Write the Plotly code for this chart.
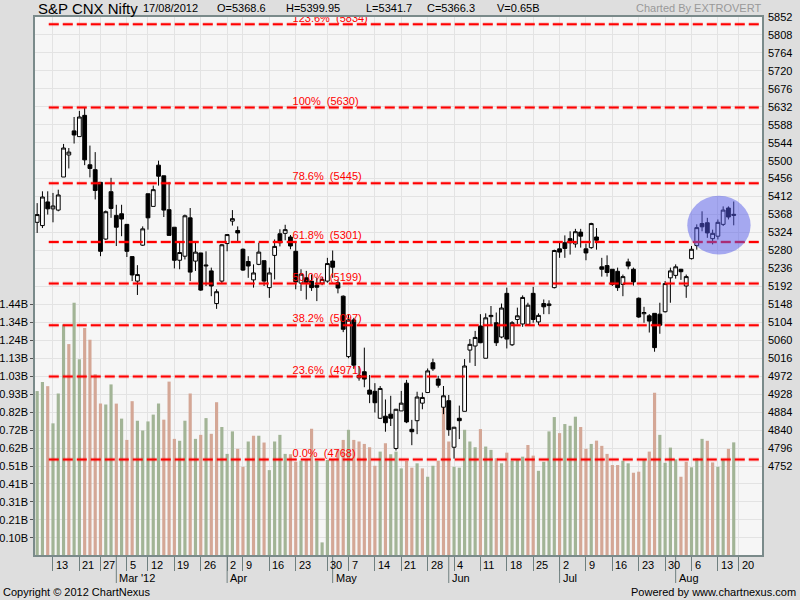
import plotly.graph_objects as go
import pandas as pd

# ---------------- data ----------------
HOLIDAYS = ["2012-02-20", "2012-03-08", "2012-04-05", "2012-04-06", "2012-05-01", "2012-08-15"]
EXTRA_SESSIONS = ["2012-04-28"]
_days = pd.bdate_range("2012-02-08", "2012-08-17").drop(pd.to_datetime(HOLIDAYS))
_days = _days.union(pd.to_datetime(EXTRA_SESSIONS))
DATES = [d.strftime("%Y-%m-%d") for d in _days]

OPEN = [5349, 5341, 5399, 5382, 5379, 5460, 5514, 5573, 5559, 5611, 5490, 5478, 5447, 5308, 5424,
        5366, 5370, 5344, 5265, 5205, 5293, 5419, 5388, 5489, 5463, 5380, 5337, 5256, 5266, 5360,
        5254, 5274, 5242, 5230, 5150, 5205, 5297, 5352, 5329, 5283, 5253, 5208, 5246, 5255, 5189,
        5268, 5321, 5322, 5313, 5278, 5200, 5213, 5205, 5195, 5200, 5205, 5254, 5201, 5168, 5020,
        5110, 4968, 4983, 4938, 4935, 4869, 4874, 4879, 4795, 4887, 4955, 4842, 4863, 4906, 4932,
        5005, 4965, 4896, 4912, 4798, 4869, 4886, 5036, 5046, 5095, 5016, 5118, 5103, 5068, 5175,
        5049, 5111, 5100, 5099, 5175, 5105, 5150, 5145, 5189, 5284, 5299, 5309, 5296, 5325, 5284,
        5287, 5313, 5240, 5243, 5234, 5229, 5197, 5252, 5234, 5163, 5125, 5120, 5126, 5124, 5130,
        5213, 5219, 5234, 5193, 5260, 5292, 5346, 5348, 5309, 5315, 5344, 5384, 5368.6]
HIGH = [5396, 5425, 5425, 5421, 5429, 5541, 5531, 5607, 5622, 5630, 5537, 5521, 5447, 5378, 5458,
        5392, 5392, 5344, 5265, 5244, 5339, 5419, 5439, 5500, 5463, 5447, 5337, 5299, 5368, 5384,
        5299, 5274, 5278, 5238, 5185, 5296, 5319, 5379, 5339, 5285, 5266, 5246, 5299, 5255, 5238,
        5307, 5332, 5343, 5318, 5299, 5234, 5230, 5221, 5213, 5215, 5262, 5280, 5209, 5170, 5124,
        5115, 4997, 5042, 4975, 4955, 4948, 4915, 4924, 4892, 4936, 4963, 4865, 4934, 4932, 4991,
        5015, 4973, 4948, 4926, 4848, 4900, 5014, 5063, 5083, 5124, 5126, 5144, 5128, 5150, 5189,
        5107, 5140, 5170, 5152, 5191, 5126, 5160, 5158, 5282, 5300, 5317, 5327, 5333, 5333, 5297,
        5348, 5335, 5262, 5268, 5234, 5238, 5221, 5260, 5238, 5165, 5142, 5124, 5126, 5152, 5205,
        5238, 5246, 5235, 5221, 5291, 5344, 5376, 5360, 5331, 5356, 5388, 5388, 5399.95]
LOW = [5323, 5335, 5368, 5349, 5376, 5460, 5481, 5542, 5559, 5489, 5459, 5405, 5266, 5306, 5360,
       5291, 5315, 5264, 5205, 5171, 5291, 5331, 5388, 5439, 5362, 5317, 5236, 5234, 5258, 5205,
       5230, 5181, 5193, 5168, 5137, 5200, 5278, 5341, 5303, 5230, 5213, 5189, 5244, 5193, 5164,
       5209, 5290, 5305, 5283, 5185, 5181, 5160, 5181, 5156, 5195, 5201, 5213, 5175, 5080, 5016,
       4990, 4961, 4945, 4906, 4883, 4867, 4836, 4850, 4790, 4887, 4857, 4803, 4830, 4891, 4932,
       4985, 4944, 4879, 4826, 4770, 4818, 4886, 5005, 4997, 5053, 5016, 5095, 5046, 5065, 5040,
       5046, 5099, 5093, 5095, 5103, 5097, 5124, 5124, 5187, 5262, 5262, 5270, 5287, 5287, 5256,
       5284, 5282, 5216, 5216, 5193, 5181, 5168, 5234, 5194, 5115, 5103, 5079, 5032, 5076, 5128,
       5152, 5211, 5208, 5164, 5258, 5282, 5327, 5311, 5295, 5307, 5340, 5356, 5341.7]
CLOSE = [5368, 5411, 5382, 5389, 5416, 5531, 5521, 5563, 5607, 5502, 5481, 5427, 5278, 5375, 5383,
         5337, 5357, 5278, 5220, 5221, 5333, 5360, 5429, 5462, 5379, 5317, 5256, 5275, 5365, 5227,
         5276, 5183, 5244, 5193, 5179, 5294, 5319, 5358, 5323, 5232, 5242, 5225, 5276, 5205, 5225,
         5290, 5299, 5331, 5291, 5203, 5222, 5202, 5189, 5190, 5209, 5248, 5239, 5188, 5087, 5110,
         4999, 4974, 4965, 4928, 4907, 4942, 4858, 4869, 4891, 4906, 4860, 4836, 4921, 4920, 4985,
         4990, 4950, 4924, 4841, 4847, 4863, 4997, 5050, 5067, 5054, 5115, 5121, 5054, 5139, 5063,
         5103, 5120, 5165, 5146, 5111, 5121, 5142, 5149, 5280, 5276, 5285, 5299, 5326, 5315, 5274,
         5346, 5305, 5234, 5226, 5197, 5189, 5216, 5242, 5203, 5117, 5128, 5107, 5042, 5097, 5199,
         5230, 5240, 5228, 5216, 5283, 5336, 5338, 5323, 5322, 5349, 5379, 5362, 5366.3]
VOLUME_B = [0.944, 0.996, 0.972, 0.759, 0.930, 1.325, 1.213, 1.450, 1.126, 1.305, 1.238, 1.040, 0.872,
            0.867, 0.982, 0.872, 0.786, 0.664, 0.886, 0.774, 0.718, 0.770, 0.809, 0.872, 0.780, 0.998,
            0.670, 0.659, 0.774, 0.930, 0.670, 0.693, 0.789, 0.699, 0.880, 0.738, 0.584, 0.713, 0.613,
            0.510, 0.655, 0.688, 0.688, 0.649, 0.491, 0.655, 0.693, 0.584, 0.582, 0.539, 0.545, 0.553,
            0.728, 0.545, 0.077, 0.549, 0.549, 0.607, 0.664, 0.722, 0.664, 0.655, 0.641, 0.622, 0.516,
            0.597, 0.645, 0.582, 0.597, 0.501, 0.543, 0.505, 0.530, 0.501, 0.453, 0.516, 0.545, 0.882,
            0.655, 0.510, 0.505, 0.722, 0.655, 0.622, 0.726, 0.626, 0.607, 0.559, 0.530, 0.591, 0.545,
            0.549, 0.568, 0.635, 0.574, 0.487, 0.539, 0.713, 0.795, 0.703, 0.755, 0.745, 0.797, 0.738,
            0.613, 0.641, 0.660, 0.630, 0.584, 0.520, 0.520, 0.545, 0.530, 0.476, 0.482, 0.553, 0.597,
            0.934, 0.693, 0.533, 0.620, 0.553, 0.453, 0.539, 0.507, 0.559, 0.670, 0.659, 0.535, 0.510,
            0.553, 0.613, 0.65]

FIB_LABELS = ["123.6%", "100%", "78.6%", "61.8%", "50.0%", "38.2%", "23.6%", "0.0%"]
FIB_LEVELS = [5834, 5630, 5445, 5301, 5199, 5097, 4971, 4768]

VOL_TICKS = [0.10, 0.21, 0.31, 0.41, 0.51, 0.62, 0.72, 0.82, 0.93, 1.03, 1.13, 1.24, 1.34, 1.44]

# ---------------- layout constants ----------------
W, H = 800, 600
PL, PR, PT, PB = 35, 762, 17, 555
PRICE_RANGE = [4534, 5852]
PRICE_STEP = 44
X_RANGE = [-0.41, 137.36]
FONT = "Liberation Sans, Arial, sans-serif"
UP_VOL = "#a2b496"
DN_VOL = "#d4a796"
AXIS_LINE = "#7a8a8a"
GRID = "#e3e3e3"
PAPER = "#dedede"

n = len(DATES)
X = list(range(n))
dts = pd.to_datetime(DATES)

# volume axis aligned so that grid step (44 pts) == 0.1029B and 0 is near the bottom
VOL_PER_STEP = 0.1029
VOL_ZERO_PRICE = 4532
def price_to_vol(p):
    return (p - VOL_ZERO_PRICE) / PRICE_STEP * VOL_PER_STEP
VOL_RANGE = [price_to_vol(PRICE_RANGE[0]), price_to_vol(PRICE_RANGE[1])]
vol_tickvals = [VOL_PER_STEP * (k + 1) for k in range(len(VOL_TICKS))]

vol_colors = [UP_VOL] + [UP_VOL if CLOSE[i] >= CLOSE[i - 1] else DN_VOL for i in range(1, n)]

# weekly ticks (first trading day of each week) + next week slot
week_idx, week_lbl = [], []
for i in range(1, n):
    if dts[i].isocalendar().week != dts[i - 1].isocalendar().week:
        week_idx.append(i)
        week_lbl.append(str(dts[i].day))
nxt = dts[-1] + pd.offsets.Week(weekday=0)
week_idx.append(n)
week_lbl.append(str(nxt.day))

month_idx, month_lbl = [], []
for i in range(1, n):
    if dts[i].month != dts[i - 1].month:
        month_idx.append(i)
        month_lbl.append(dts[i].strftime("%b '%y") if not month_lbl else dts[i].strftime("%b"))

price_ticks = list(range(PRICE_RANGE[1], PRICE_RANGE[0], -PRICE_STEP))
price_text = [str(v) if v >= 4752 else "" for v in price_ticks]

def px(xp):
    return (xp - PL) / (PR - PL)

def py(yp):
    return (PB - yp) / (PB - PT)

fig = go.Figure()

fig.add_trace(go.Bar(
    x=X, y=VOLUME_B, marker=dict(color=vol_colors, line=dict(width=0)),
    width=0.6, yaxis="y", hoverinfo="skip", showlegend=False))

fig.add_trace(go.Candlestick(
    x=X, open=OPEN, high=HIGH, low=LOW, close=CLOSE, yaxis="y2",
    increasing=dict(fillcolor="#ffffff", line=dict(color="#000000", width=1)),
    decreasing=dict(fillcolor="#000000", line=dict(color="#000000", width=1)),
    whiskerwidth=0, hoverinfo="skip", showlegend=False))

# fibonacci labels (clipped to the plot area like the original), sitting just above each line
FIB_LABEL_X = 48.4
LABEL_LIFT = 13.5  # price units ~ 5.5 px
fig.add_trace(go.Scatter(
    x=[FIB_LABEL_X] * len(FIB_LEVELS), y=[lvl + LABEL_LIFT for lvl in FIB_LEVELS], yaxis="y2",
    mode="text",
    text=[f"{lab}  ({lvl})" for lab, lvl in zip(FIB_LABELS, FIB_LEVELS)],
    textposition="middle right", textfont=dict(family=FONT, size=11, color="#ff0000"),
    cliponaxis=True, hoverinfo="skip", showlegend=False))

shapes = []
annotations = []

# fibonacci lines
FIB_X0 = 2.2
for lvl in FIB_LEVELS:
    shapes.append(dict(type="line", xref="x", yref="y2", x0=FIB_X0, x1=X_RANGE[1], y0=lvl, y1=lvl,
                       line=dict(color="rgba(255,0,0,0.18)", width=4, dash="10px,4px"), layer="above"))
    shapes.append(dict(type="line", xref="x", yref="y2", x0=FIB_X0, x1=X_RANGE[1], y0=lvl, y1=lvl,
                       line=dict(color="#ff0000", width=2, dash="10px,4px"), layer="above"))

# highlight ellipse around the latest consolidation
shapes.append(dict(type="circle", xref="x", yref="y2", x0=123.2, x1=135.2, y0=5270, y1=5414,
                   fillcolor="rgba(84,90,234,0.5)", line=dict(width=0), layer="above"))

# month ticks
for i in month_idx:
    shapes.append(dict(type="line", xref="x", yref="paper", x0=i, x1=i, y0=0, y1=-28 / (PB - PT),
                       line=dict(color="#6f7f7f", width=1)))

for i, lab in zip(week_idx, week_lbl):
    annotations.append(dict(xref="x", yref="paper", x=i, y=py(565), xanchor="left", yanchor="middle",
                            xshift=1, text=lab, showarrow=False,
                            font=dict(family=FONT, size=11, color="#000000")))
for i, lab in zip(month_idx, month_lbl):
    annotations.append(dict(xref="x", yref="paper", x=i, y=py(578), xanchor="left", yanchor="middle",
                            xshift=1, text=lab, showarrow=False,
                            font=dict(family=FONT, size=11, color="#000000")))

# header
last = n - 1
header = [
    ("S&P CNX Nifty", 36, 15),
    (dts[last].strftime("%d/%m/%Y"), 141, 11),
    (f"O={OPEN[last]}", 215, 11),
    (f"H={HIGH[last]}", 284, 11),
    (f"L={LOW[last]}", 364, 11),
    (f"C={CLOSE[last]}", 425, 11),
    (f"V={VOLUME_B[last]:.2f}B", 495, 11),
]
for txt, xp, sz in header:
    annotations.append(dict(xref="paper", yref="paper", x=px(xp), y=py(8), xanchor="left",
                            yanchor="middle", text=txt, showarrow=False,
                            font=dict(family=FONT, size=sz, color="#000000")))
annotations.append(dict(xref="paper", yref="paper", x=px(763), y=py(8), xanchor="right",
                        yanchor="middle", text="Charted By EXTROVERT", showarrow=False,
                        font=dict(family=FONT, size=11, color="#999999")))
annotations.append(dict(xref="paper", yref="paper", x=px(1), y=py(592), xanchor="left",
                        yanchor="middle", text="Copyright © 2012 ChartNexus", showarrow=False,
                        font=dict(family=FONT, size=11, color="#000000")))
annotations.append(dict(xref="paper", yref="paper", x=px(798), y=py(592), xanchor="right",
                        yanchor="middle", text="Powered by www.chartnexus.com", showarrow=False,
                        font=dict(family=FONT, size=11, color="#000000")))

fig.update_layout(
    width=W, height=H,
    margin=dict(l=PL, r=W - PR, t=PT, b=H - PB, pad=0, autoexpand=False),
    paper_bgcolor=PAPER, plot_bgcolor="#f6f6f6",
    font=dict(family=FONT, size=11, color="#000000"),
    showlegend=False, hovermode=False,
    boxgap=0.2, boxgroupgap=0.1,
    xaxis=dict(range=X_RANGE, tickvals=week_idx, showticklabels=False, ticks="outside",
               ticklen=14, tickcolor="#6f7f7f", tickwidth=1, showgrid=True, gridcolor=GRID,
               gridwidth=1, showline=True, linecolor=AXIS_LINE, linewidth=1.5, mirror=True,
               zeroline=False, rangeslider=dict(visible=False), fixedrange=True, automargin=False),
    yaxis=dict(range=VOL_RANGE, side="left", tickvals=vol_tickvals,
               ticktext=[f"{v:.2f}B" for v in VOL_TICKS], ticks="outside", ticklen=3,
               tickcolor="#555555", showgrid=False, zeroline=False, showline=True,
               linecolor=AXIS_LINE, linewidth=1.5, tickfont=dict(size=11), fixedrange=True,
               automargin=False),
    yaxis2=dict(range=PRICE_RANGE, side="right", overlaying="y", tickvals=price_ticks,
                ticktext=price_text, ticks="", showgrid=True, gridcolor=GRID, gridwidth=1,
                zeroline=False, showline=True, linecolor=AXIS_LINE, linewidth=1.5,
                tickfont=dict(size=11), ticklabelstandoff=2, fixedrange=True, automargin=False),
    shapes=shapes, annotations=annotations,
)

fig.write_html("out.html", config={"displayModeBar": False},
               post_script="document.body.style.margin='0';document.body.style.padding='0';")
